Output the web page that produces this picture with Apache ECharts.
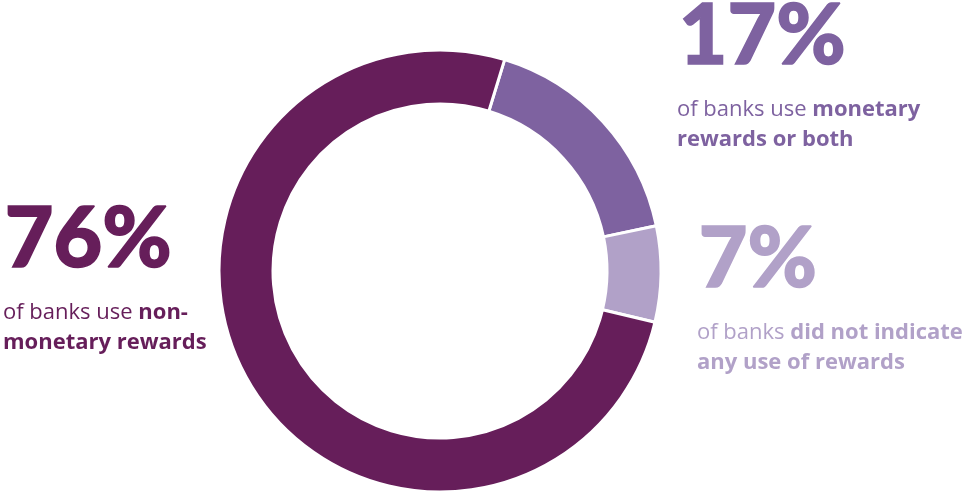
<!DOCTYPE html>
<html>
<head>
<meta charset="utf-8">
<script src="https://cdn.jsdelivr.net/npm/echarts@6/dist/echarts.min.js"></script>
<style>
  html, body { margin: 0; padding: 0; background: #ffffff; }
  #chart { width: 969px; height: 491px; }
</style>
</head>
<body>
<div id="chart"></div>
<script>
// Share of banks by type of reward used (percent)
const categories = ['monetary', 'none', 'nonMonetary'];
const values = [17, 7, 76];
const colors = ['#7E62A0', '#B1A1C8', '#661E5A'];

// Caption for each slice: [regular part, bold part on line 1, bold line 2]
const captions = {
  monetary: ['of banks use ', 'monetary', 'rewards or both'],
  none: ['of banks ', 'did not indicate', 'any use of rewards'],
  nonMonetary: ['of banks use ', 'non-', 'monetary rewards']
};

const NUM_FONT = 'Lato, "Open Sans", sans-serif';
const CAP_FONT = '"Open Sans", Lato, sans-serif';

// Text block anchor positions
const blocks = {
  monetary: { x: 678, y: -6 },
  none: { x: 698, y: 217 },
  nonMonetary: { x: 4, y: 197 }
};

const chart = echarts.init(document.getElementById('chart'), null, { renderer: 'canvas' });

const graphics = [];
categories.forEach((key, i) => {
  const b = blocks[key];
  const c = captions[key];
  graphics.push({
    type: 'text',
    left: b.x,
    top: b.y,
    style: {
      text: values[i] + '%',
      fill: colors[i],
      font: '900 84px ' + NUM_FONT,
      stroke: colors[i],
      lineWidth: 1.5
    }
  });
  graphics.push({
    type: 'text',
    left: b.x - 1,
    top: b.y + 105,
    style: {
      text: '{n|' + c[0] + '}{b|' + c[1] + '}\n{b|' + c[2] + '}',
      fill: colors[i],
      rich: {
        n: { fontFamily: CAP_FONT, fontSize: 22, fontWeight: 'normal', fill: colors[i], lineHeight: 30 },
        b: { fontFamily: CAP_FONT, fontSize: 22, fontWeight: 'bold', fill: colors[i], lineHeight: 30 }
      }
    }
  });
});

chart.setOption({
  animation: false,
  graphic: graphics,
  series: [{
    type: 'pie',
    center: [440, 271],
    radius: [167, 221],
    startAngle: 73,
    clockwise: true,
    label: { show: false },
    labelLine: { show: false },
    emphasis: { disabled: true },
    itemStyle: { borderColor: '#ffffff', borderWidth: 3 },
    data: categories.map((k, i) => ({ name: k, value: values[i], itemStyle: { color: colors[i] } }))
  }]
});
</script>
</body>
</html>
